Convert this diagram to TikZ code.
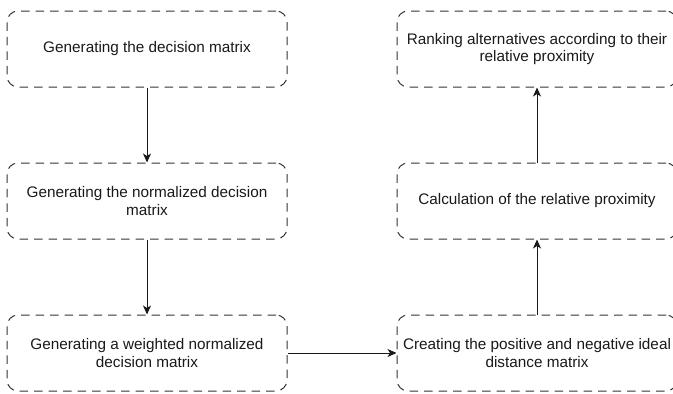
\documentclass[tikz,border=0pt]{standalone}
\usepackage{fontspec}
\setmainfont{Liberation Sans}
\usetikzlibrary{arrows.meta}
\begin{document}
\begin{tikzpicture}[x=1pt,y=-1pt,
  stepbox/.style={draw=black!80, line width=1pt, dash pattern=on 8.5pt off 6pt,
    rounded corners=11pt, minimum width=280pt, minimum height=76pt,
    align=center, inner sep=0pt, text=black!90, font=\fontsize{15.3}{17.5}\selectfont},
  conn/.style={draw=black!90, line width=1pt, -{Stealth[length=9pt,width=8pt,inset=2.5pt]}}]
\useasboundingbox (0,0) rectangle (673,394);
\node[stepbox] (a) at (147,49) {Generating the decision matrix};
\node[stepbox] (b) at (147,201) {Generating the normalized decision\\matrix};
\node[stepbox] (c) at (147,353) {Generating a weighted normalized\\decision matrix};
\node[stepbox] (d) at (537,353) {Creating the positive and negative ideal\\distance matrix};
\node[stepbox] (e) at (537,201) {Calculation of the relative proximity};
\node[stepbox] (f) at (537,49) {Ranking alternatives according to their\\relative proximity};
\draw[conn] (a) -- (b);
\draw[conn] (b) -- (c);
\draw[conn] (c) -- (d);
\draw[conn] (d) -- (e);
\draw[conn] (e) -- (f);
\end{tikzpicture}
\end{document}
